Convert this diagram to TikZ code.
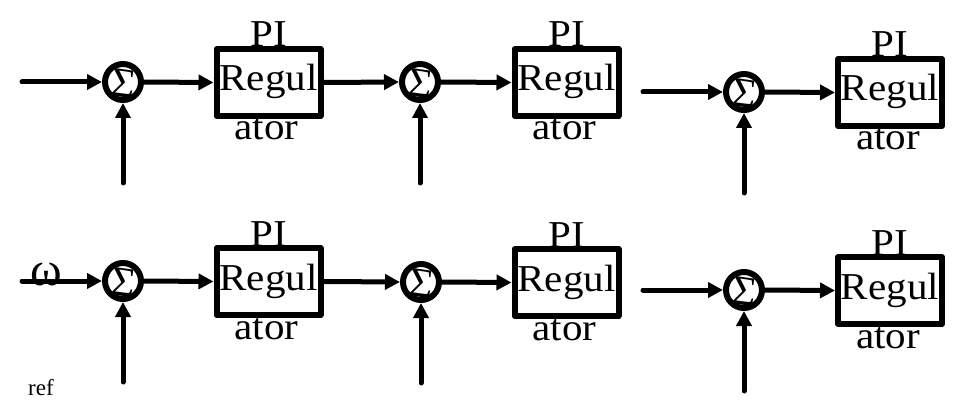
\documentclass[tikz,border=0pt]{standalone}
\usepackage{fontspec}
\setmainfont{Liberation Serif}
\newfontfamily\wide[FakeStretch=1.08]{Liberation Serif}
\usetikzlibrary{arrows.meta}
\tikzset{
  sumnode/.style={circle, draw, line width=6pt, minimum size=36pt, inner sep=0pt},
  blk/.style={draw, line width=6pt, minimum width=104pt, minimum height=67pt, inner sep=0pt, line join=round},
  arr/.style={line width=5pt, line cap=round, -{Triangle[length=15pt,width=15pt]}},
  txt/.style={font=\wide\fontsize{38pt}{38pt}\selectfont, inner sep=0pt},
  sig/.style={font=\fontsize{42pt}{42pt}\selectfont, inner sep=0pt, rotate=-8}
}
\newcommand{\grp}[5]{%
  % #1 name, #2 circle x, #3 line y, #4 box left, #5 box center x
  \node[sumnode] (s#1) at (#2,#3) {};
  \node[sig] at (#2+1,#3+2) {Σ};
  \node[blk] (b#1) at (#5,#3+0.5) {};
  \node[txt, anchor=base] (r#1) at (#5,#3+9) {Regul};
  \node[txt, anchor=base] (p#1) at (#5,#3-35) {PI};
  \node[txt, anchor=base] (a#1) at (#5-2,#3+58) {ator};
  \coordinate (v#1) at (#2,#3+101);
  \draw[arr] (s#1.east) -- (b#1.west);
  \draw[arr] (v#1) -- (s#1.south);
}
\begin{document}
\begin{tikzpicture}[x=1pt,y=-1pt]
\useasboundingbox (0,0) rectangle (959,417);
\grp{1}{123}{82}{215}{268.5}
\grp{2}{420}{82}{513}{566.5}
\grp{3}{744}{92}{837}{890}
\grp{4}{123}{281}{215}{268.5}
\grp{5}{421}{282}{513}{566.5}
\grp{6}{744}{290}{837}{890}
\coordinate (i1) at (22,82);
\coordinate (i3) at (643,92);
\coordinate (i4) at (22,281);
\coordinate (i6) at (643,290);
\draw[arr] (i1) -- (s1.west);
\draw[arr] (b1.east) -- (s2.west);
\draw[arr] (i3) -- (s3.west);
\node[font=\fontsize{48pt}{48pt}\selectfont, inner sep=0pt] (w) at (46,274) {ω};
\draw[arr] (i4) -- (s4.west);
\draw[arr] (b4.east) -- (s5.west);
\draw[arr] (i6) -- (s6.west);
\node[font=\fontsize{23pt}{23pt}\selectfont, inner sep=0pt] (ref) at (41,388) {ref};
\end{tikzpicture}
\end{document}
